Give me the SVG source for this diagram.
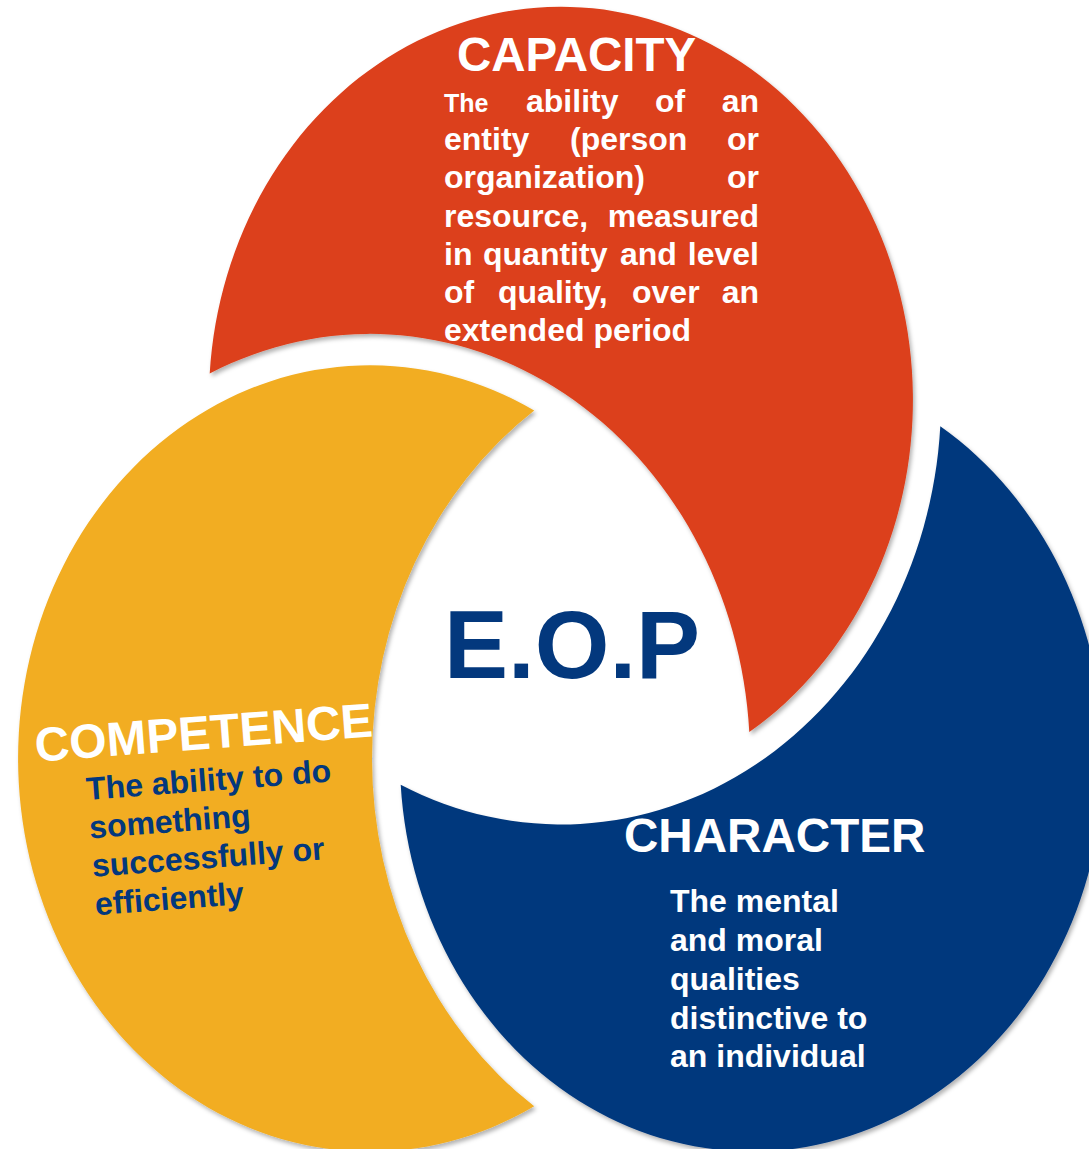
<svg xmlns="http://www.w3.org/2000/svg" width="1089" height="1149" viewBox="0 0 1089 1149">
<style>
  .t { font-family: "Liberation Sans", Arial, sans-serif; font-weight: bold; }
  .w { fill: #ffffff; }
  .b { fill: #03387D; }
  .body { font-size: 32px; }
  .end { text-anchor: end; }
</style>
<defs>
  <filter id="shadow" x="-10%" y="-10%" width="120%" height="120%">
    <feDropShadow dx="2" dy="3" stdDeviation="2" flood-color="#000000" flood-opacity="0.3"/>
  </filter>
</defs>
<rect width="1089" height="1149" fill="#ffffff"/>
<g id="connectors"></g>
<g id="node-capacity">
  <path filter="url(#shadow)" fill="#DC3F1B" d="M 209.7 373.5 A 352 393.2 0 1 1 749.3 732.1 A 380 424.5 0 0 0 209.7 373.5 Z"/>
  <text class="t w" x="457" y="71" font-size="47.5">CAPACITY</text>
  <g class="t w body">
    <text x="444" y="112" font-size="25">The</text>
    <text x="526" y="112">ability</text>
    <text x="655" y="112">of</text>
    <text class="end" x="759" y="112">an</text>
    <text x="444" y="150">entity</text>
    <text x="570" y="150">(person</text>
    <text class="end" x="759" y="150">or</text>
    <text x="444" y="188">organization)</text>
    <text class="end" x="759" y="188">or</text>
    <text x="444" y="227">resource,</text>
    <text class="end" x="759" y="227">measured</text>
    <text x="444" y="265">in</text>
    <text x="483" y="265">quantity</text>
    <text x="620" y="265">and</text>
    <text class="end" x="759" y="265">level</text>
    <text x="444" y="303">of</text>
    <text x="498" y="303">quality,</text>
    <text x="632" y="303">over</text>
    <text class="end" x="759" y="303">an</text>
    <text x="444" y="341">extended period</text>
  </g>
</g>
<g id="node-competence">
  <path filter="url(#shadow)" fill="#F2AD21" d="M 534.2 410.6 A 352 393.2 0 1 0 534.2 1106.3 A 380 424.5 0 0 1 534.2 410.6 Z"/>
  <g transform="translate(87,800) rotate(-4.3)">
    <text class="t w" x="-48" y="-42" font-size="48">COMPETENCE</text>
    <g class="t b body" font-size="31">
      <text x="0" y="0">The ability to do</text>
      <text x="0" y="38.5">something</text>
      <text x="0" y="77">successfully or</text>
      <text x="0" y="115.5">efficiently</text>
    </g>
  </g>
</g>
<g id="node-character">
  <path filter="url(#shadow)" fill="#03387D" d="M 400.7 784.8 A 352 393.2 0 1 0 940.3 426.2 A 380 424.5 0 0 1 400.7 784.8 Z"/>
  <text class="t w" x="624" y="852" font-size="47.6">CHARACTER</text>
  <g class="t w body">
    <text x="670" y="912">The mental</text>
    <text x="670" y="951">and moral</text>
    <text x="670" y="990">qualities</text>
    <text x="670" y="1029">distinctive to</text>
    <text x="670" y="1067">an individual</text>
  </g>
</g>
<g id="node-eop">
  <text class="t b" x="444" y="678" font-size="96">E.O.P</text>
</g>
</svg>
